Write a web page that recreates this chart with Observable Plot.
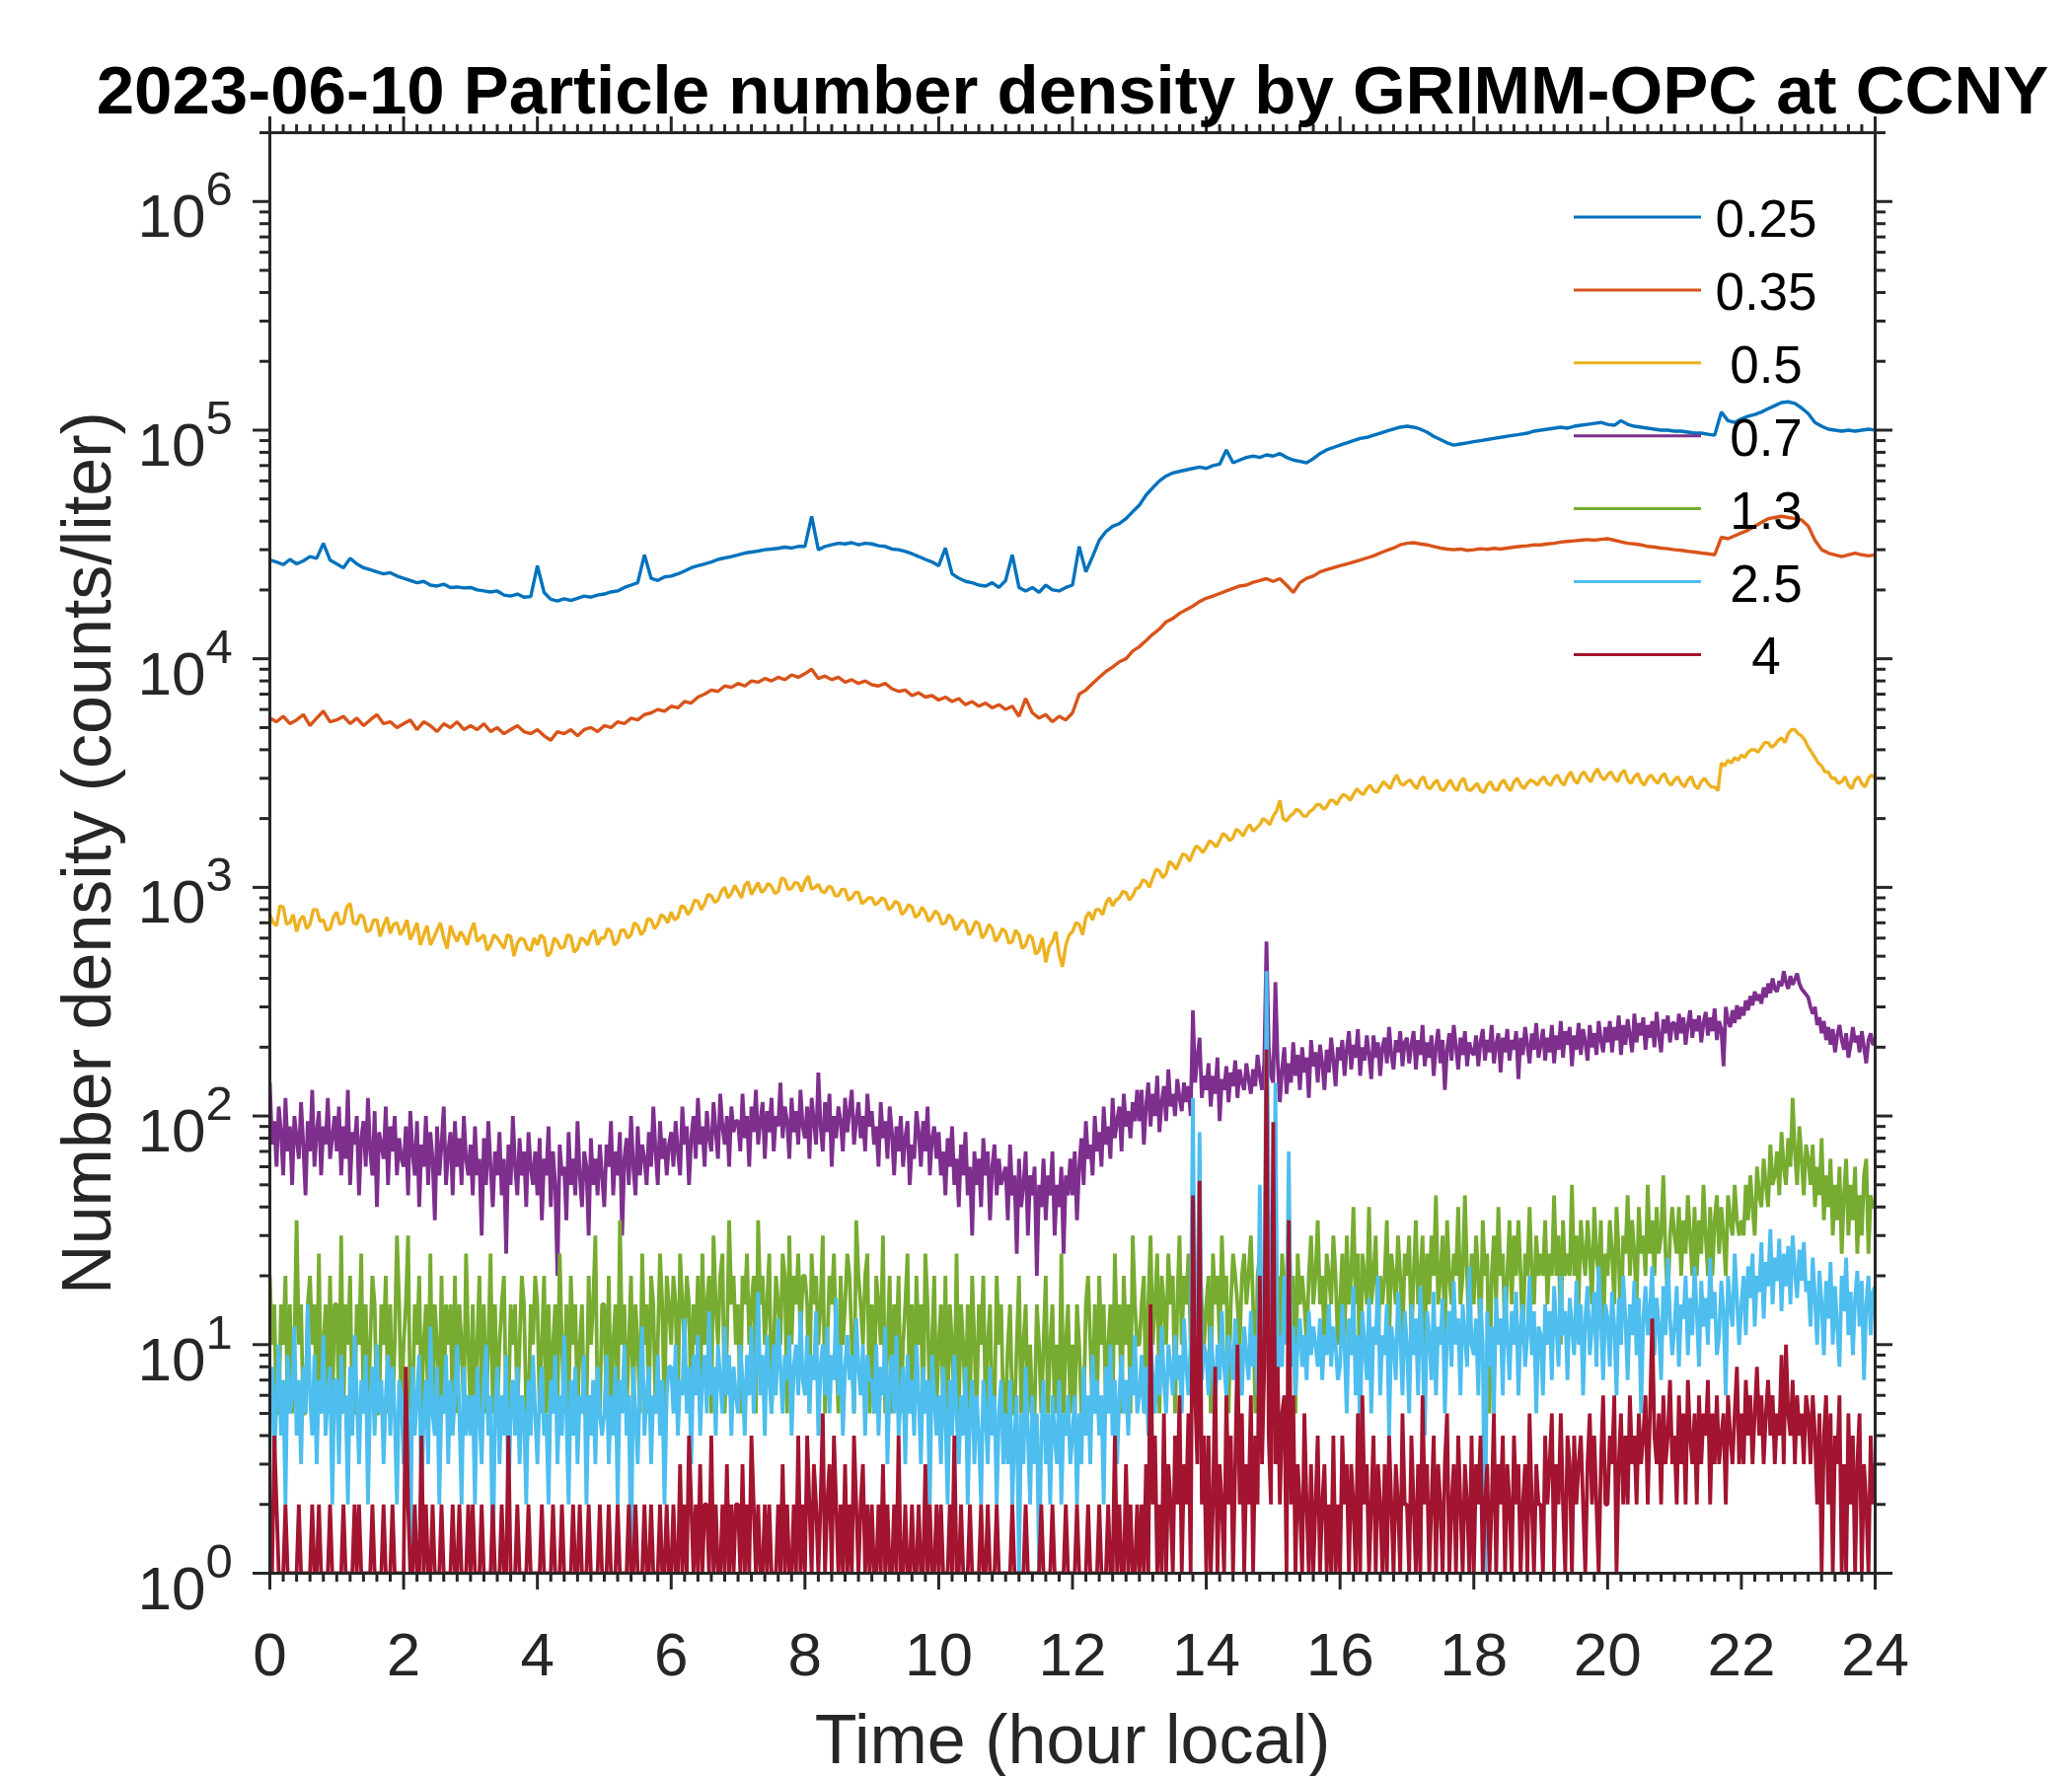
<!DOCTYPE html>
<html><head><meta charset="utf-8">
<script src="https://cdn.jsdelivr.net/npm/d3@7"></script>
<script src="https://cdn.jsdelivr.net/npm/@observablehq/plot@0.6"></script>
<style>body{margin:0;background:#fff}svg{display:block}</style>
</head><body><div id="chart"></div>
<script>
const titleText = "2023-06-10 Particle number density by GRIMM-OPC at CCNY";
const xLabel = "Time (hour local)";
const yLabel = "Number density (counts/liter)";
const sizeLabels = ["0.25","0.35","0.5","0.7","1.3","2.5","4"];
const sizeColors = ["#0072BD","#D95319","#EDB120","#7E2F8E","#77AC30","#4DBEEE","#A2142F"];
const xMajor = [0,2,4,6,8,10,12,14,16,18,20,22,24];
const yMajor = [1,10,100,1000,10000,100000,1000000];
const dayHours = 24;

// 0.25 um, every 6 min
const n025 = [
27000,26500,25800,27200,26000,26800,28000,27500,32000,27000,
26000,25000,27500,26000,25000,24500,24000,23500,23800,23000,
22500,22000,21500,21800,21000,20800,21200,20500,20600,20400,
20500,20000,19800,19600,19800,19000,18800,19200,18600,18700,
25500,19500,18200,17900,18300,18000,18400,18800,18600,19000,
19200,19600,19800,20500,21000,21500,28500,22500,22000,22800,
23000,23500,24200,25000,25500,26000,26500,27200,27600,28000,
28500,29000,29300,29600,30000,30200,30400,30800,30500,31000,
31000,42000,30000,31000,31500,32000,31800,32200,31500,32000,
31800,31200,31000,30200,30000,29500,28800,28000,27200,26500,
25500,30500,23500,22500,21800,21500,21000,20800,21500,20500,
22000,28500,20500,19800,20500,19500,21000,20000,19800,20500,
21000,31000,24000,28000,33000,36000,38000,39000,41000,44000,
47000,52000,56000,60000,63000,65000,66000,67000,68000,69000,
68000,70000,71000,82000,72000,74000,76000,77000,76000,78000,
77000,79000,76000,74000,73000,72000,75000,79000,82000,84000,
86000,88000,90000,92000,93000,95000,97000,99000,101000,103000,
104000,103000,101000,98000,94000,91000,88000,86000,87000,88000,
89000,90000,91000,92000,93000,94000,95000,96000,97000,99000,
100000,101000,102000,103000,102000,104000,105000,106000,107000,108000,
106000,105000,110000,106000,104000,103000,102000,101000,100000,100000,
99000,99000,98000,97000,97000,96000,95000,120000,110000,108000,
112000,115000,117000,120000,124000,128000,132000,133000,131000,125000,
118000,108000,104000,101000,100000,99000,100000,99000,100000,101000,
100000];

// 0.35 um, every 6 min
const n035 = [
5500,5300,5600,5200,5400,5700,5100,5500,5900,5300,
5400,5600,5200,5500,5100,5400,5700,5200,5300,5000,
5200,5400,4900,5300,5100,4800,5200,5000,5300,4900,
5100,4900,5200,4800,5000,4700,4900,5100,4800,4700,
4900,4600,4400,4800,4700,4900,4600,4900,5000,4800,
5100,5000,5300,5200,5500,5400,5700,5800,6000,5900,
6200,6100,6500,6400,6800,7000,7300,7200,7600,7500,
7800,7600,8000,7900,8200,8000,8300,8100,8500,8300,
8600,9000,8200,8400,8100,8300,7900,8100,7800,8000,
7700,7600,7800,7400,7200,7300,6900,7100,6800,6900,
6600,6800,6500,6700,6300,6500,6200,6400,6100,6300,
6000,6200,5600,6700,5800,5500,5700,5300,5600,5400,
5800,7000,7300,7800,8300,8800,9200,9700,10000,10800,
11300,12000,12800,13500,14500,15000,15800,16400,17000,17800,
18400,18800,19300,19800,20300,20800,21000,21600,22000,22400,
21800,22400,21000,19500,21500,22500,23000,24000,24500,25000,
25500,26000,26500,27000,27600,28200,29000,29800,30500,31500,
32000,32200,31800,31500,31000,30500,30200,30000,30200,29800,
30000,30300,30100,30400,30200,30500,30800,31000,31200,31500,
31500,31800,32000,32400,32600,32800,33000,33200,33000,33300,
33500,33000,32500,32000,31800,31500,31000,30800,30500,30300,
30000,29800,29500,29300,29000,28800,28500,34000,33500,34500,
35500,36500,38000,39500,41000,41500,42000,41500,41000,40500,
38000,33000,30000,29000,28500,28000,28500,29000,28500,28200,
28500];

// 0.5 um, every 3 min
const n05 = [
760,700,680,830,820,690,700,760,640,720,750,660,690,800,800,710,720,650,660,740,
780,690,700,820,850,700,690,760,740,640,650,720,720,610,680,740,630,690,700,620,
660,720,590,640,700,560,620,680,560,600,650,700,600,540,680,620,580,640,610,560,
640,700,580,600,620,530,560,620,600,570,540,620,610,500,570,600,590,540,530,600,
560,620,600,500,520,600,580,540,550,620,610,520,540,600,590,560,620,650,560,600,
600,660,640,560,580,650,650,600,620,700,680,620,650,730,720,660,690,760,740,700,
780,720,740,830,820,760,800,880,870,800,850,930,920,860,880,960,1000,900,940,1020,
960,900,1020,1060,930,990,1050,950,980,1040,1010,940,960,1100,1080,980,990,1050,1040,960,
1060,1120,980,1000,1030,960,950,1010,1000,920,920,980,980,880,900,950,950,850,870,900,
900,840,860,900,880,800,820,870,850,760,790,840,820,740,760,820,780,710,740,790,
760,690,700,760,730,650,680,720,700,620,650,710,690,600,630,690,660,580,610,660,
640,570,580,650,620,540,560,620,600,510,530,600,470,550,580,640,510,450,560,620,
640,700,690,620,740,780,720,800,800,760,850,900,830,880,900,960,950,880,920,990,
1000,1080,1060,1000,1100,1200,1180,1100,1150,1300,1260,1200,1300,1400,1380,1300,1420,1520,1480,1420,
1500,1600,1560,1500,1600,1720,1680,1600,1650,1800,1750,1680,1800,1880,1760,1820,1880,2000,1950,1880,
2050,2150,2400,2000,1950,2050,2100,2200,2150,2050,2050,2150,2200,2300,2300,2200,2250,2400,2400,2300,
2450,2550,2500,2400,2550,2700,2600,2550,2700,2800,2650,2600,2750,2900,2800,2700,2950,3100,2850,2800,
2900,2950,2800,2700,2950,3050,2750,2700,2850,2950,2700,2650,2800,2950,2750,2650,2900,3000,2700,2650,
2750,2850,2650,2600,2800,2900,2700,2650,2850,2950,2750,2650,2900,3000,2800,2700,2850,2950,2900,2800,
2950,3050,2850,2800,3000,3100,2900,2800,3050,3200,2950,2850,3100,3200,3000,2900,3150,3300,3050,2950,
3100,3200,3000,2900,3150,3250,2950,2850,3050,3150,2900,2800,3000,3100,2950,2850,3050,3150,2900,2800,
2950,3050,2850,2750,2950,3050,2800,2700,2900,3000,2850,2750,2750,2650,3500,3400,3600,3500,3700,3600,
3800,3700,3900,4000,4000,3900,4100,4300,4300,4100,4200,4400,4500,4300,4700,4900,4900,4700,4600,4400,
4100,3900,3700,3500,3400,3200,3200,3000,3000,2850,2900,3050,2800,2700,2950,3050,2850,2750,3000,3100,
3000];

// 0.7 um, every 2 min
const n07 = [
140,75,95,60,110,85,55,120,70,90,50,100,80,65,115,75,45,95,70,130,60,85,105,55,90,75,120,65,80,100,
70,110,55,90,65,130,50,85,75,100,45,80,95,60,120,70,55,105,40,85,75,65,110,50,90,70,100,55,80,65,
60,90,45,105,70,55,95,40,75,60,100,50,85,65,35,90,55,75,110,50,70,85,45,95,60,80,50,100,65,55,
75,45,90,55,65,30,80,50,95,60,40,70,55,85,45,65,25,75,50,100,60,45,80,55,70,40,85,60,50,70,
45,80,35,65,55,90,40,70,50,20,75,55,60,35,85,50,65,45,95,55,40,70,60,30,80,50,65,45,75,55,
40,75,60,95,45,70,55,85,30,65,80,50,100,60,45,90,55,75,65,50,85,60,110,70,50,95,65,80,55,75,
85,60,95,70,55,110,75,90,50,80,100,65,120,75,90,60,105,80,70,115,85,65,125,90,75,100,60,110,85,95,
95,70,125,80,100,60,110,85,130,75,95,115,65,105,85,120,70,100,90,140,80,110,95,65,120,85,105,75,130,90,
80,110,65,120,95,75,155,90,70,115,85,125,60,100,80,110,95,70,120,85,105,130,75,95,115,80,100,70,125,90,
105,75,90,60,115,80,95,65,110,85,55,90,70,100,60,80,95,50,75,65,105,85,60,95,70,110,55,80,90,65,
85,55,70,45,80,60,90,50,65,40,75,55,85,45,60,30,70,50,65,40,80,55,70,35,60,75,45,65,50,55,
60,35,75,45,55,25,65,40,50,70,30,55,45,60,20,50,40,65,35,55,45,70,30,50,40,60,25,55,45,65,
45,70,35,60,80,50,95,65,75,55,100,70,85,60,110,75,90,65,120,80,95,110,70,125,90,105,80,115,95,130,
95,130,75,110,140,90,125,100,150,85,115,135,95,160,110,125,100,145,120,105,140,115,135,100,290,140,180,220,120,150,
130,170,110,150,125,180,95,145,130,165,115,155,135,175,120,160,140,130,170,145,125,160,135,185,150,130,170,580,200,150,
140,385,175,115,160,200,125,170,140,210,150,185,130,200,155,180,120,215,165,190,140,205,170,130,195,155,220,175,135,200,
175,215,150,195,235,160,205,180,240,150,200,175,225,185,145,225,180,210,150,200,220,170,245,185,160,215,190,235,165,210,
220,170,205,235,160,215,185,250,165,210,180,225,150,200,240,170,215,130,195,230,175,250,200,160,220,185,235,165,210,190,
185,225,165,210,240,175,215,190,250,170,205,230,155,220,190,240,175,215,195,235,145,220,185,245,205,170,230,195,255,180,
205,240,175,220,190,250,170,225,195,260,180,235,205,245,165,225,195,255,185,240,210,175,250,200,230,185,260,215,190,245,
210,260,190,245,215,275,185,250,205,265,225,190,280,210,255,225,270,195,250,220,260,200,285,225,190,265,230,275,210,255,
255,215,280,230,270,205,250,290,220,265,235,275,210,255,285,225,270,235,295,215,260,240,165,300,260,245,290,255,305,265,
300,275,320,290,335,305,350,320,340,310,365,330,380,345,400,360,350,390,370,430,385,360,410,375,395,420,380,360,350,340,
330,300,280,300,250,270,230,260,215,245,205,240,190,225,250,215,195,230,180,205,245,210,225,190,235,200,170,215,230,205,
210];

// 1.3 um, every 2 min
const n13 = [
20,10,15,5,5,15,10,20,5,15,5,10,35,10,15,5,5,15,20,10,15,5,25,5,10,15,5,20,5,15,
15,5,30,5,15,10,20,5,5,15,10,25,5,15,5,10,20,15,5,5,15,10,20,5,15,5,10,30,15,5,
10,15,30,5,5,15,10,20,5,10,15,5,25,5,15,10,5,20,5,15,10,15,5,20,5,15,10,5,25,10,
5,15,5,10,20,5,15,5,10,25,5,15,5,10,15,20,5,5,15,10,15,5,10,20,15,5,5,15,10,20,
15,5,10,20,5,15,5,10,15,5,25,10,5,15,5,20,10,15,5,10,15,5,5,20,10,15,30,5,5,15,
15,5,20,5,10,15,5,35,10,15,5,10,20,5,15,10,5,25,10,15,5,20,15,5,10,25,15,5,20,15,
10,20,15,5,25,15,10,20,15,5,15,10,20,5,25,10,15,20,5,30,15,10,20,25,5,10,35,15,20,10,
15,5,20,15,25,10,15,20,5,35,15,20,10,15,25,5,10,20,15,10,25,20,5,30,10,20,15,25,10,20,
20,15,5,25,15,20,10,15,30,5,10,20,15,25,10,5,20,10,15,25,20,10,5,35,20,15,10,20,25,5,
15,5,20,15,10,30,5,10,20,5,15,10,20,5,10,15,25,5,15,5,20,10,15,5,25,15,5,10,20,5,
10,15,5,20,5,15,10,5,25,5,15,10,5,15,5,20,10,5,15,10,20,5,10,15,5,5,20,10,15,5,
5,10,15,5,5,10,20,5,10,15,5,10,5,5,15,10,5,10,20,5,10,15,5,10,5,25,5,10,15,5,
10,5,15,10,5,5,15,20,10,5,15,5,20,10,15,5,10,15,5,25,10,15,5,20,10,15,5,30,15,10,
10,15,20,5,15,30,10,15,25,5,20,15,10,25,15,20,5,15,30,10,20,15,25,10,40,15,20,25,15,10,
15,20,5,25,15,20,10,30,15,20,5,15,25,20,15,10,20,25,15,20,30,15,5,20,25,15,20,35,15,20,
25,15,20,10,25,15,20,35,15,20,5,25,15,20,15,10,20,30,15,20,35,15,20,10,25,20,15,30,20,10,
15,25,10,30,15,20,40,15,25,5,25,20,15,40,15,20,30,10,20,15,20,35,10,25,20,15,30,20,10,25,
20,30,10,20,35,15,20,30,10,25,15,30,20,45,15,20,30,10,35,20,15,25,20,40,15,20,45,20,10,25,
15,30,20,10,35,20,25,5,20,30,15,40,20,25,10,20,35,15,30,20,35,20,10,25,20,40,20,15,30,20,
25,20,35,15,25,20,45,20,30,10,35,20,25,20,50,20,30,15,35,25,20,35,25,15,40,25,20,35,10,25,
20,35,25,15,40,25,10,30,25,45,20,35,25,15,40,25,30,20,50,25,35,20,40,25,30,55,25,15,30,40,
30,25,40,20,35,25,45,30,20,40,20,35,25,50,30,20,40,20,35,45,25,40,30,20,45,35,30,50,35,30,
35,30,50,35,55,40,30,60,45,40,65,50,40,75,50,55,70,45,85,60,50,80,60,120,70,50,90,65,45,75,
65,50,75,40,60,45,80,35,55,40,65,30,50,35,60,25,45,65,30,50,35,60,25,45,30,55,65,25,45,40,
40];

// 2.5 um, every 2 min
const n25 = [
5,8,3,6,10,4,7,2,9,5,6,12,4,7,3,8,5,15,6,4,9,3,7,5,11,4,6,8,2,7,
7,3,9,5,6,2,8,4,11,6,3,7,5,9,2,6,8,4,10,5,7,3,6,9,4,8,5,2,7,6,
3,7,5,1,8,4,6,9,2,5,7,3,12,5,4,8,2,6,5,9,3,7,4,6,10,5,2,8,4,6,
4,6,2,8,5,3,7,10,4,6,1,5,8,3,6,4,9,2,5,7,4,8,3,6,5,2,7,4,9,5,
3,6,8,4,5,2,7,5,9,3,6,4,11,5,2,7,4,8,3,6,5,9,2,6,4,7,3,8,5,4,
5,9,3,6,4,8,2,7,5,10,4,6,1,8,5,3,7,12,4,6,8,3,6,5,9,4,7,2,6,8,
8,5,10,4,7,6,13,5,8,3,9,6,11,4,7,9,5,14,6,8,4,10,7,5,12,6,9,4,8,6,
5,10,7,4,9,6,12,5,8,17,6,9,4,11,7,5,10,6,13,8,5,9,7,11,4,8,10,6,14,7,
6,11,5,9,7,14,4,8,10,6,12,5,9,7,16,6,10,4,8,11,7,9,5,13,8,6,10,4,9,7,
7,5,10,4,8,6,12,3,7,9,5,11,4,6,8,3,9,5,7,4,10,6,3,8,5,7,2,9,6,4,
6,3,8,5,2,7,4,9,5,3,6,4,8,2,5,7,3,6,4,2,7,5,3,8,4,6,2,5,7,3,
5,3,7,2,4,6,1,5,3,8,4,2,6,3,5,1,4,7,3,5,2,6,4,3,7,2,5,4,6,3,
4,6,2,5,3,8,4,6,3,9,5,7,4,6,2,8,5,10,4,7,3,6,9,5,7,4,8,6,11,5,
6,9,5,8,4,11,7,5,9,6,12,7,5,10,8,6,11,7,9,5,13,8,6,10,120,8,14,85,7,10,
9,6,12,8,5,10,7,14,8,6,11,9,7,13,8,10,6,12,9,7,14,8,11,6,50,10,8,430,40,12,
9,140,7,11,8,20,10,70,8,12,6,10,13,8,11,7,14,9,12,10,8,13,7,11,9,15,8,12,10,7,
8,15,10,5,13,9,18,6,11,4,14,10,7,16,5,12,10,20,6,11,9,15,4,12,10,7,17,11,6,14,
10,5,15,9,13,6,18,10,4,14,11,7,17,6,12,10,16,5,11,14,8,19,10,13,6,15,11,8,22,10,
9,13,6,16,10,1,14,8,12,5,16,10,13,6,18,11,7,14,10,17,6,12,15,8,11,20,9,14,5,12,
11,6,15,10,14,7,18,12,8,20,11,14,7,16,12,9,19,10,15,6,13,18,9,12,17,8,22,13,7,15,
13,8,17,12,6,16,10,20,13,7,15,11,19,9,16,5,13,18,11,14,22,9,16,12,7,18,11,24,13,9,
12,18,8,15,13,20,9,16,11,22,14,8,19,12,16,10,24,13,17,9,11,19,14,6,20,15,12,25,16,10,
15,20,11,22,16,25,12,20,17,28,13,23,18,32,15,24,19,29,14,25,18,27,15,30,21,16,26,19,28,17,
19,12,24,16,10,21,15,9,19,13,23,10,18,12,8,20,14,24,11,17,9,16,21,12,19,7,15,20,11,17,
18];

// 4 um, every 2 min
const n4 = [
1,1,4,2,1,1,1,2,1,1,1,1,1,2,1,1,1,1,1,2,1,1,2,1,1,1,1,2,1,1,
1,1,1,2,1,1,1,1,2,1,2,1,1,1,1,1,2,1,1,1,1,2,1,1,1,2,1,1,1,1,
1,8,2,1,1,2,1,1,4,1,2,1,1,2,1,1,1,2,1,1,1,1,2,1,1,2,1,1,1,2,
1,2,1,1,1,2,1,1,1,1,2,1,1,1,2,1,1,4,1,1,1,2,1,1,1,1,2,1,1,1,
1,1,2,1,1,1,1,2,1,1,1,2,1,1,1,1,2,1,1,2,1,1,1,2,1,1,1,1,2,1,
1,1,2,1,1,1,2,1,1,1,1,2,1,1,2,1,1,1,2,1,1,2,1,1,1,2,1,1,2,1,
1,2,1,1,3,1,2,1,4,2,1,2,1,3,1,2,2,1,4,1,2,1,1,2,1,3,1,2,1,2,
2,1,3,1,2,1,4,2,1,2,1,1,2,1,2,1,1,1,2,1,3,1,2,1,1,2,1,4,1,2,
1,4,2,1,3,2,1,2,5,1,2,3,1,4,2,1,2,1,3,1,2,1,4,2,1,2,3,1,2,1,
2,1,1,2,1,3,1,2,1,1,2,1,4,1,1,2,1,1,2,1,1,2,1,1,3,1,2,1,1,2,
1,2,1,1,1,2,1,4,1,1,2,1,1,1,2,1,1,1,1,2,1,1,2,1,1,1,2,1,1,1,
1,1,1,2,1,1,1,1,1,2,1,1,1,1,1,1,2,1,1,1,1,2,1,1,1,1,1,2,1,1,
1,1,2,1,1,1,1,2,1,1,1,1,2,1,1,1,2,1,1,4,1,2,1,1,3,1,2,1,1,2,
1,2,1,3,1,15,2,4,1,2,1,5,1,3,2,1,4,2,6,1,3,2,5,1,45,6,3,52,2,4,
1,4,1,2,8,1,3,2,1,6,2,4,1,3,10,2,5,1,3,2,6,1,4,2,20,3,8,195,4,2,
94,3,8,2,5,6,1,35,2,6,1,3,2,1,5,2,1,3,1,2,4,1,2,3,1,2,1,4,1,2,
1,4,2,3,1,3,2,1,5,1,6,2,3,1,2,4,1,3,2,1,3,1,4,2,1,3,2,1,5,2,
2,1,4,2,1,3,1,6,2,3,1,2,4,1,3,2,1,3,5,1,2,3,1,4,2,1,3,2,1,4,
1,3,2,4,1,2,3,1,2,5,1,3,2,4,1,3,2,1,4,2,3,1,2,3,1,5,2,1,3,2,
2,1,4,2,3,5,1,3,2,5,2,1,4,3,1,4,2,3,4,2,1,3,5,2,4,2,1,3,6,2,
2,4,3,6,1,3,5,2,4,2,6,3,4,2,5,3,4,6,2,5,13,4,3,5,2,6,3,4,7,3,
4,2,6,3,5,2,7,4,3,5,2,6,3,5,4,7,2,5,3,6,3,4,5,2,6,4,3,5,8,3,
5,3,7,4,6,3,5,8,4,6,3,5,7,4,6,3,5,4,9,3,10,5,4,7,3,6,4,5,3,6,
5,3,6,4,2,5,1,4,6,2,5,1,4,3,6,1,3,1,5,2,4,1,3,5,1,3,2,1,4,2,
3];

const seriesValues = [n025, n035, n05, n07, n13, n25, n4];

// time grid: evenly spaced samples over the day
const rowsOf = (vals) => vals.map((v, i) => ({h: i * dayHours / (vals.length - 1), v}));

const xMinor = d3.range(0, 121).filter(i => i % 10 !== 0).map(i => i / 5);
const yMinor = [];
for (const dec of [1,10,100,1000,10000,100000,1000000]) for (let m = 2; m <= 9; m++) if (dec * m <= 2e6) yMinor.push(dec * m);

const W = 2100, H = 1800, L = 273, R = 1900, T = 134, B = 1594;
const ink = "#262626";
const font = "'Liberation Sans', Arial, Helvetica, sans-serif";
const axisStyle = {fill: "none", stroke: ink, strokeWidth: 3};

const lineMarks = seriesValues.map((vals, k) =>
  Plot.line(rowsOf(vals), {x: "h", y: "v", stroke: sizeColors[k], strokeWidth: k < 3 ? 3.4 : 3.8, clip: true, strokeLinejoin: "miter"}));

const chart = Plot.plot({
  width: W, height: H,
  marginLeft: L, marginRight: W - R, marginTop: T, marginBottom: H - B,
  style: {background: "white", fontFamily: font, overflow: "visible"},
  x: {domain: [0, 24]},
  y: {type: "log", domain: [1, 2e6]},
  marks: [
    ...lineMarks,
    Plot.frame({stroke: ink, strokeWidth: 3}),
    Plot.axisX(xMajor, {anchor: "bottom", tickSize: 17, ...axisStyle}),
    Plot.axisX(xMinor, {anchor: "bottom", tickSize: 9, ...axisStyle}),
    Plot.axisX(xMajor, {anchor: "top", tickSize: 17, ...axisStyle}),
    Plot.axisX(xMinor, {anchor: "top", tickSize: 9, ...axisStyle}),
    Plot.axisY(yMajor, {anchor: "left", tickSize: 17, ...axisStyle}),
    Plot.axisY(yMinor, {anchor: "left", tickSize: 10, ...axisStyle}),
    Plot.axisY(yMajor, {anchor: "right", tickSize: 17, ...axisStyle}),
    Plot.axisY(yMinor, {anchor: "right", tickSize: 10, ...axisStyle}),
    Plot.text(xMajor, {x: d => d, text: d => String(d), frameAnchor: "bottom", dy: 103, lineAnchor: "bottom", fontSize: 62, fill: ink}),
    Plot.text(yMajor, {y: d => d, text: () => "10", frameAnchor: "left", textAnchor: "end", dx: -65, dy: 36, lineAnchor: "bottom", fontSize: 62, fill: ink}),
    Plot.text(yMajor, {y: d => d, text: d => String(Math.round(Math.log10(d))), frameAnchor: "left", textAnchor: "start", dx: -65, dy: 4, lineAnchor: "bottom", fontSize: 49, fill: ink}),
    Plot.text([xLabel], {text: d => d, frameAnchor: "bottom", textAnchor: "middle", dy: 192, lineAnchor: "bottom", fontSize: 70, fill: ink}),
    Plot.text([yLabel], {text: d => d, frameAnchor: "left", textAnchor: "middle", rotate: -90, dx: 111 - L, lineAnchor: "bottom", fontSize: 70, fill: ink}),
    Plot.text([titleText], {text: d => d, frameAnchor: "top", textAnchor: "middle", dy: 114 - T, lineAnchor: "bottom", fontSize: 69, fontWeight: "bold", fill: "black"})
  ]
});

// legend (no box), MATLAB-style, inside the upper-right of the axes
const svg = d3.select(chart);
const lg = svg.append("g").attr("font-family", font);
sizeLabels.forEach((lab, k) => {
  const y = 220 + k * 73.9;
  lg.append("line").attr("x1", 1595).attr("x2", 1724).attr("y1", y).attr("y2", y)
    .attr("stroke", sizeColors[k]).attr("stroke-width", 3);
  lg.append("text").attr("x", 1790).attr("y", y + 20).attr("text-anchor", "middle")
    .attr("font-size", 53).attr("fill", "black").text(lab);
});

document.getElementById("chart").appendChild(chart);
</script>
</body></html>
